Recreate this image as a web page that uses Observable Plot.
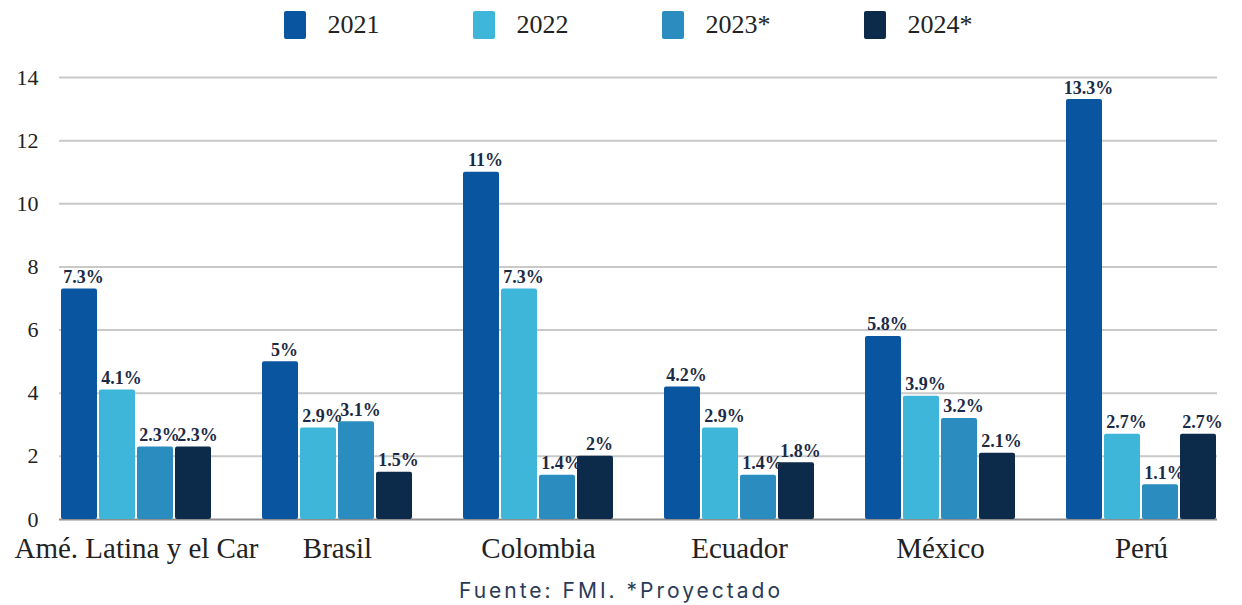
<!DOCTYPE html>
<html>
<head>
<meta charset="utf-8">
<script src="https://cdn.jsdelivr.net/npm/d3@7"></script>
<script src="https://cdn.jsdelivr.net/npm/@observablehq/plot@0.6"></script>
<style>
  body { margin: 0; background: #fff; width: 1242px; height: 605px; overflow: hidden; font-family: "Liberation Serif", "DejaVu Serif", serif; }
  #legend { height: 50px; display: flex; justify-content: center; align-items: center; gap: 93px; padding-left: 14px; box-sizing: border-box; }
  .item { display: flex; align-items: center; gap: 22px; font-size: 26px; color: #222; }
  .sw { width: 22px; height: 28px; border-radius: 2px; }
  #chart { position: relative; width: 1242px; height: 519px; }
  #chart svg { position: absolute; left: 0; top: 0; }
  #chart svg text { font-family: "Liberation Serif", "DejaVu Serif", serif; }
  #caption { margin-top: 4px; height: 36px; line-height: 36px; text-align: center; font-family: "Inter", "Lato", sans-serif; font-size: 21px; letter-spacing: 3px; color: #2a3b57; }
</style>
</head>
<body>
<div id="legend"></div>
<div id="chart"></div>
<div id="caption">Fuente: FMI. *Proyectado</div>
<script>
// Crecimiento del PIB por país (%), 2021–2024
const countries = ["Amé. Latina y el Car", "Brasil", "Colombia", "Ecuador", "México", "Perú"];
const years = ["2021", "2022", "2023*", "2024*"];
const v2021 = [7.3, 5, 11, 4.2, 5.8, 13.3];
const v2022 = [4.1, 2.9, 7.3, 2.9, 3.9, 2.7];
const v2023 = [2.3, 3.1, 1.4, 1.4, 3.2, 1.1];
const v2024 = [2.3, 1.5, 2, 1.8, 2.1, 2.7];
const colors = ["#0a559f", "#3db6d9", "#2b8cc0", "#0c2a4a"];
const yTicks = [0, 2, 4, 6, 8, 10, 12, 14];

const series = [v2021, v2022, v2023, v2024];
const data = [];
countries.forEach((c, i) => years.forEach((y, j) => data.push({country: c, year: y, value: series[j][i]})));

const fmt = v => (Number.isInteger(v) ? String(v) : v.toFixed(1)) + "%";

// Leyenda
const legend = document.getElementById("legend");
years.forEach((y, j) => {
  const it = document.createElement("div");
  it.className = "item";
  const sw = document.createElement("div");
  sw.className = "sw";
  sw.style.background = colors[j];
  const tx = document.createElement("span");
  tx.textContent = y;
  it.append(sw, tx);
  legend.append(it);
});

const W = 1242, H = 519;
const margins = {marginTop: 27, marginBottom: 50, marginLeft: 59, marginRight: 25};

// Capa de fondo: cuadrícula continua y etiquetas del eje Y
const back = Plot.plot({
  width: W, height: H, ...margins,
  style: {background: "transparent"},
  y: {domain: [0, 14], axis: null},
  marks: [
    Plot.ruleY(yTicks.filter(t => t > 0), {stroke: "#c9c9c9", strokeWidth: 2}),
    Plot.ruleY([0], {stroke: "#8e8e8e", strokeWidth: 2}),
    Plot.text(yTicks, {
      y: d => d, text: d => String(d), frameAnchor: "left", textAnchor: "end",
      dx: -21, fontSize: 22, fill: "#222"
    })
  ]
});

// Capa de barras agrupadas por país
const front = Plot.plot({
  width: W, height: H, ...margins,
  style: {background: "transparent", fontSize: "29px", color: "#222"},
  fx: {domain: countries, paddingInner: 0.245, paddingOuter: 0, label: null, axis: "bottom", tickSize: 0, tickPadding: 18},
  x: {domain: years, paddingInner: 0.05, paddingOuter: 0, axis: null},
  y: {domain: [0, 14], axis: null},
  color: {domain: years, range: colors},
  marks: [
    Plot.barY(data, {fx: "country", x: "year", y: "value", fill: "year", rx: 2}),
    Plot.text(data, {
      fx: "country", x: "year", y: "value", text: d => fmt(d.value),
      lineAnchor: "bottom", dy: -6, dx: 4,
      fontWeight: "bold", fontSize: 18, fill: "#1b2b45"
    })
  ]
});

const chart = document.getElementById("chart");
chart.append(back, front);
</script>
</body>
</html>
